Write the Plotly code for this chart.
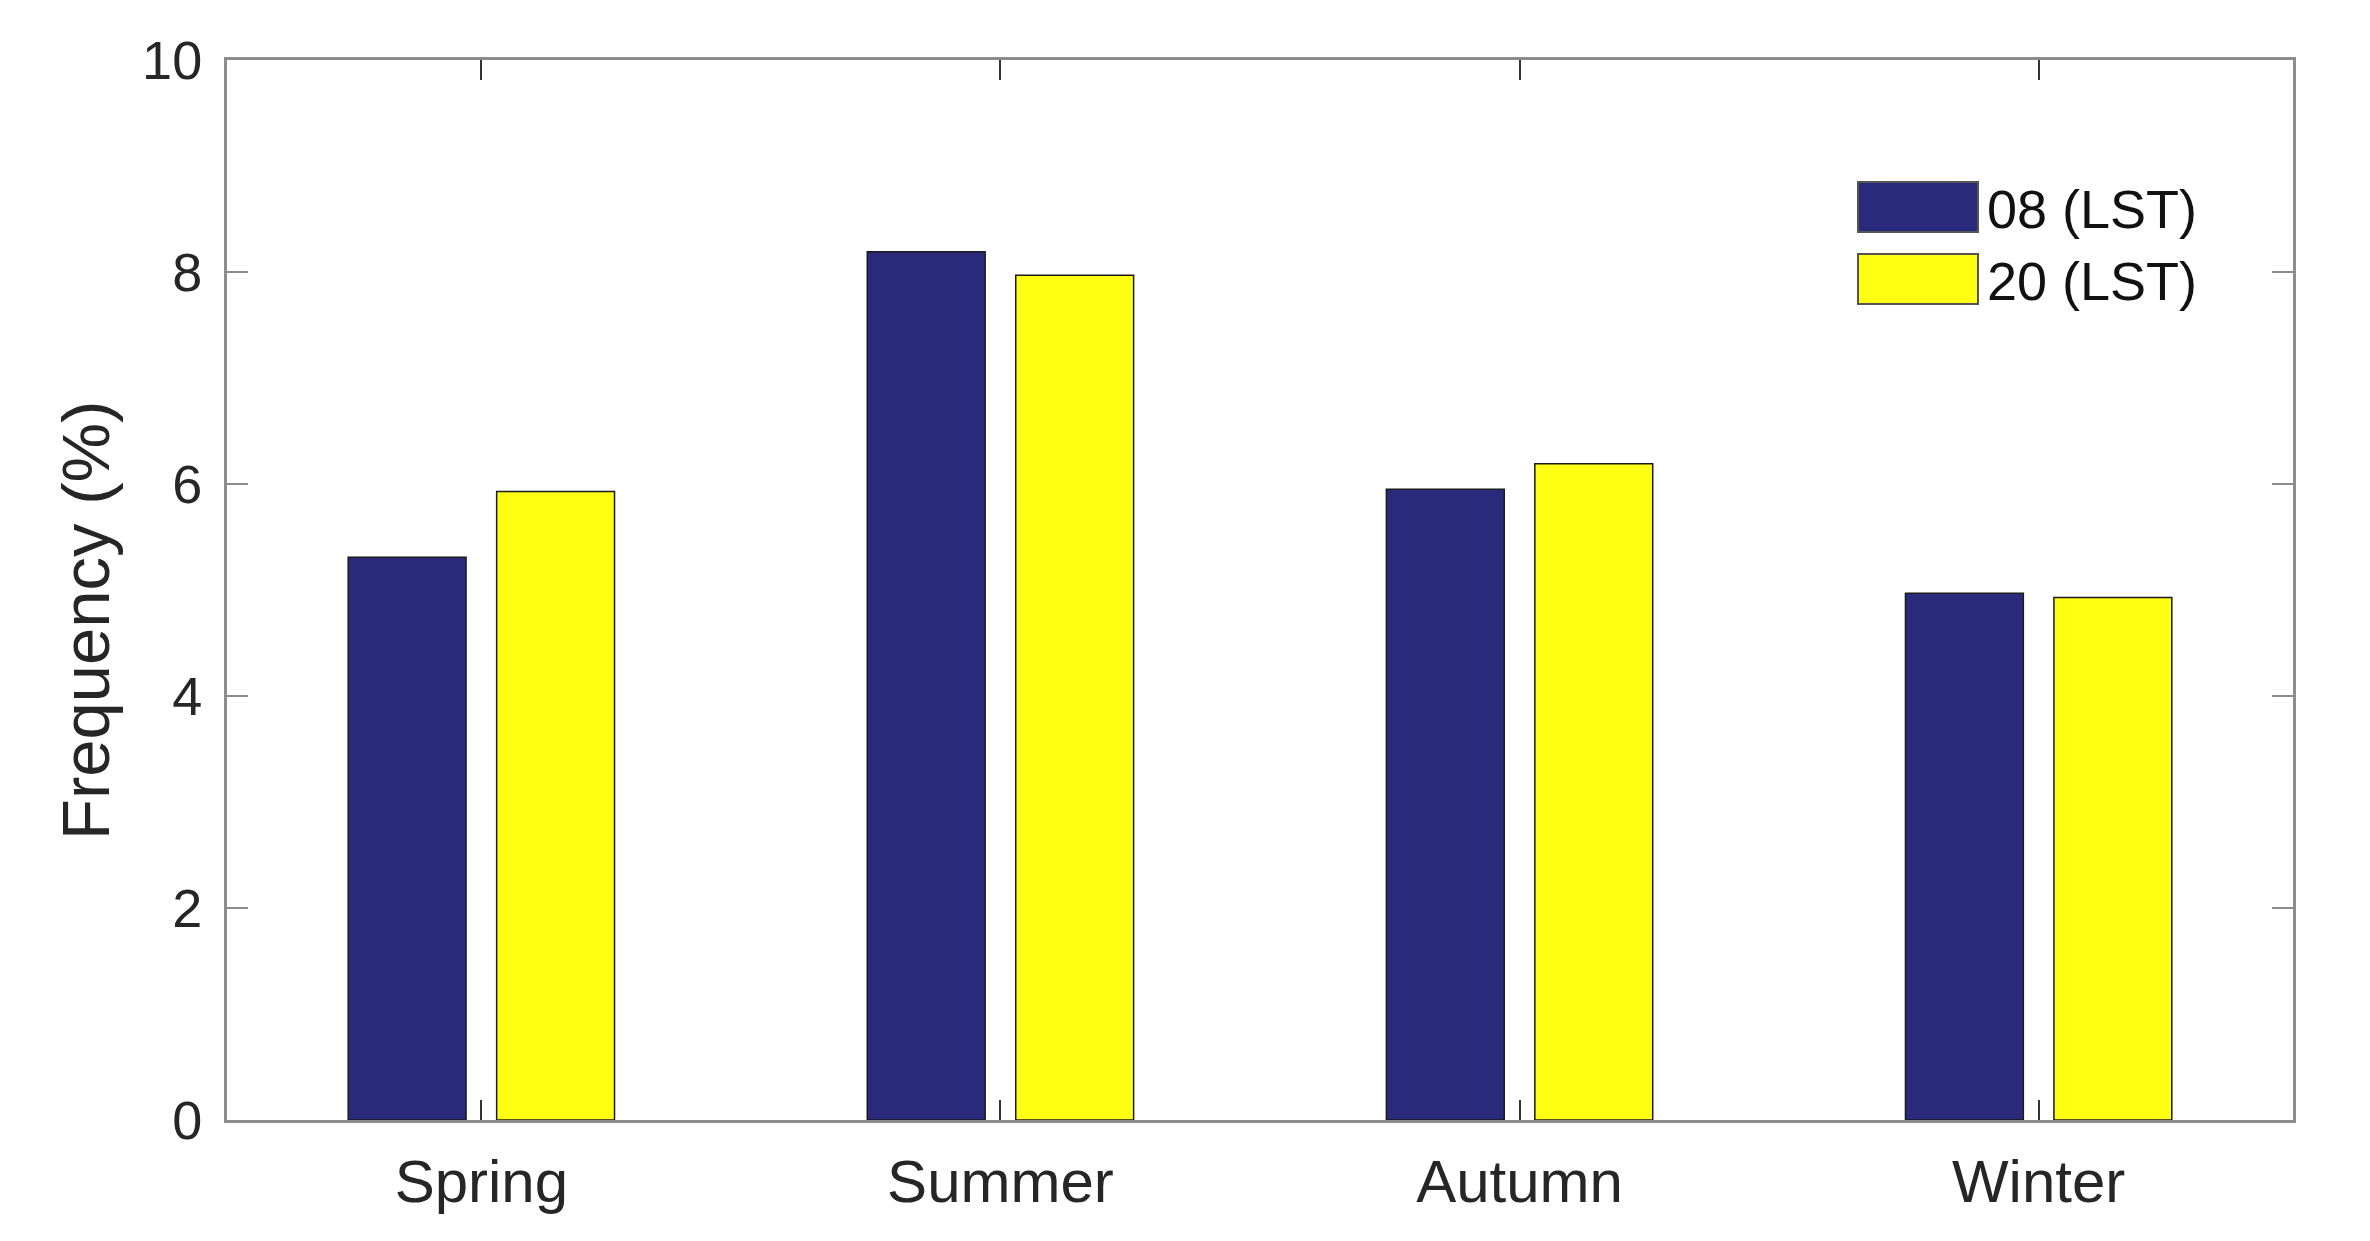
import plotly.graph_objects as go

seasons = ["Spring", "Summer", "Autumn", "Winter"]
series_names = ["08 (LST)", "20 (LST)"]
freq_08 = [5.31, 8.19, 5.95, 4.97]
freq_20 = [5.93, 7.97, 6.19, 4.93]
colors = ["#2a2a7c", "#ffff14"]
y_ticks = [0, 2, 4, 6, 8, 10]
y_title = "Frequency (%)"

FONT = "Liberation Sans, Arial, Helvetica, sans-serif"
TXT = "#262626"
AX = "#8c8c8c"

# page body has an 8px default margin; compensate so the plot area lands where intended
OFF = 8
L, R, T, B = 227 - OFF, 77 + OFF, 60 - OFF, 121 + OFF
W, H = 2370, 1241

fig = go.Figure()
for name, vals, col in zip(series_names, [freq_08, freq_20], colors):
    fig.add_trace(go.Bar(
        x=list(range(1, len(seasons) + 1)), y=vals, name=name,
        marker=dict(color=col, line=dict(color="#1a1a1a", width=1.5)),
        showlegend=False,
    ))

fig.update_layout(
    width=W, height=H,
    margin=dict(l=L, r=R, t=T, b=B),
    paper_bgcolor="white", plot_bgcolor="white",
    barmode="group", bargap=0.428, bargroupgap=0.206,
    font=dict(family=FONT, color=TXT, size=54),
    xaxis=dict(
        range=[0.51, 4.49], tickmode="array",
        tickvals=list(range(1, len(seasons) + 1)), ticktext=seasons,
        ticks="inside", ticklen=20, tickwidth=1.5, tickcolor="#333333",
        showline=True, linecolor=AX, linewidth=3, mirror="ticks",
        showgrid=False, zeroline=False, ticklabelstandoff=7,
        tickfont=dict(size=60, family=FONT, color=TXT),
    ),
    yaxis=dict(
        range=[0, 10], tickmode="array", tickvals=y_ticks,
        ticktext=[str(v) for v in y_ticks],
        ticks="inside", ticklen=21, tickwidth=2, tickcolor=AX,
        showline=True, linecolor=AX, linewidth=3, mirror="ticks",
        showgrid=False, zeroline=False, ticklabelstandoff=11,
        tickfont=dict(size=54, family=FONT, color=TXT),
    ),
)

plot_w = W - L - R
plot_h = H - T - B
def px2paper_x(px):
    return (px - OFF - L) / plot_w
def px2paper_y(py):
    return (H - B - (py - OFF)) / plot_h

# y-axis title (MATLAB places it slightly below the axis centre)
fig.add_annotation(xref="paper", yref="paper",
                   x=px2paper_x(86), y=px2paper_y(621),
                   xanchor="center", yanchor="middle", showarrow=False,
                   textangle=-90, text=y_title,
                   font=dict(size=67, family=FONT, color=TXT))

# legend drawn in paper coordinates (pixel positions measured in the screenshot)
swatch_left, swatch_right = 1858, 1978
rows = [(182, 232), (254, 304)]
for name, col, (top, bot) in zip(series_names, colors, rows):
    fig.add_shape(type="rect", xref="paper", yref="paper",
                  x0=px2paper_x(swatch_left), x1=px2paper_x(swatch_right),
                  y0=px2paper_y(bot), y1=px2paper_y(top),
                  fillcolor=col, line=dict(color="#555555", width=2))
    fig.add_annotation(xref="paper", yref="paper",
                       x=px2paper_x(swatch_right + 7), y=px2paper_y((top + bot) / 2 + 2),
                       xanchor="left", yanchor="middle", showarrow=False,
                       text=name, font=dict(size=54, family=FONT, color="#111111"))

fig.write_html("out.html")
